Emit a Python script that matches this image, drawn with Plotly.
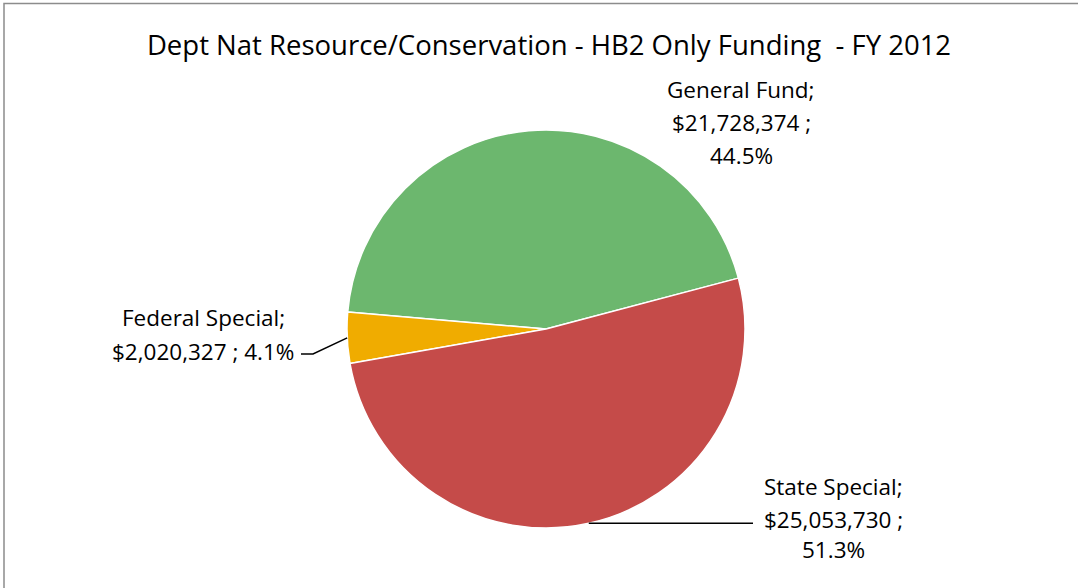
import math
import plotly.graph_objects as go

# HB2 funding by source, FY 2012
sources = ["General Fund", "Federal Special", "State Special"]
amounts = [21728374, 2020327, 25053730]
colors = ["#6CB76E", "#F0AC00", "#C54B49"]

W, H = 1078, 588
FONT = "Open Sans"

# pie geometry (pixels)
cx, cy, r = 546, 329, 199
# plotly rotation for counterclockwise pies marks the edge between the
# first and second slices (degrees clockwise from 12 o'clock)
rotation = -85.1

total = sum(amounts)
pcts = [a / total * 100 for a in amounts]
shares_deg = [a / total * 360 for a in amounts]


def px(x):
    return x / W


def py(y):
    return 1 - y / H


fig = go.Figure(
    go.Pie(
        labels=sources,
        values=amounts,
        sort=False,
        direction="counterclockwise",
        rotation=rotation,
        marker=dict(colors=colors, line=dict(color="white", width=1.5)),
        textinfo="none",
        hoverinfo="label+value+percent",
        domain=dict(x=[px(cx - r), px(cx + r)], y=[py(cy + r), py(cy - r)]),
        showlegend=False,
    )
)

# start of the first slice, counterclockwise from 3 o'clock
start_ccw = 90 - (rotation + shares_deg[0])


def mid_angle(i):
    """Middle of slice i in degrees, counterclockwise from 3 o'clock."""
    return start_ccw + sum(shares_deg[:i]) + shares_deg[i] / 2


def edge_point(i):
    a = math.radians(mid_angle(i))
    return cx + r * math.cos(a), cy - r * math.sin(a)


def money(v):
    return "${:,}".format(v)


def pct(p):
    return "{:.1f}%".format(p)


annotations = []


def add_lines(lines, x, ys, size=22.5):
    for text, y in zip(lines, ys):
        annotations.append(dict(
            text=text, x=px(x), y=py(y), xref="paper", yref="paper",
            xanchor="center", yanchor="middle", showarrow=False,
            font=dict(family=FONT, size=size, color="#000000"),
        ))


# General Fund label
add_lines([sources[0] + ";", money(amounts[0]) + " ;", pct(pcts[0])],
          741, [89, 122, 155])
# Federal Special label
add_lines([sources[1] + ";", money(amounts[1]) + " ; " + pct(pcts[1])],
          203, [317, 351])
# State Special label
add_lines([sources[2] + ";", money(amounts[2]) + " ;", pct(pcts[2])],
          833, [486, 519, 549])

shapes = []

# leader line for Federal Special
fx, fy = edge_point(1)
shapes.append(dict(type="path", xref="paper", yref="paper",
                   path="M {} {} L {} {} L {} {}".format(
                       px(fx), py(fy), px(313), py(354), px(301), py(354)),
                   line=dict(color="#000000", width=1.5)))
# leader line for State Special
sx, sy = edge_point(2)
shapes.append(dict(type="path", xref="paper", yref="paper",
                   path="M {} {} L {} {}".format(
                       px(sx), py(sy), px(753), py(sy)),
                   line=dict(color="#000000", width=1.5)))
# chart frame
shapes.append(dict(type="rect", xref="paper", yref="paper",
                   x0=px(4), y0=py(3.5), x1=1.02, y1=-0.02,
                   line=dict(color="#8C8C8C", width=1.5)))

fig.update_layout(
    width=W, height=H,
    margin=dict(l=0, r=0, t=0, b=0),
    paper_bgcolor="white",
    plot_bgcolor="white",
    title=dict(
        text="Dept Nat Resource/Conservation - HB2 Only Funding  - FY 2012",
        x=px(549), y=py(45), xanchor="center", yanchor="middle",
        font=dict(family=FONT, size=27.5, color="#000000"),
    ),
    annotations=annotations,
    shapes=shapes,
)

fig.write_html("out.html")
